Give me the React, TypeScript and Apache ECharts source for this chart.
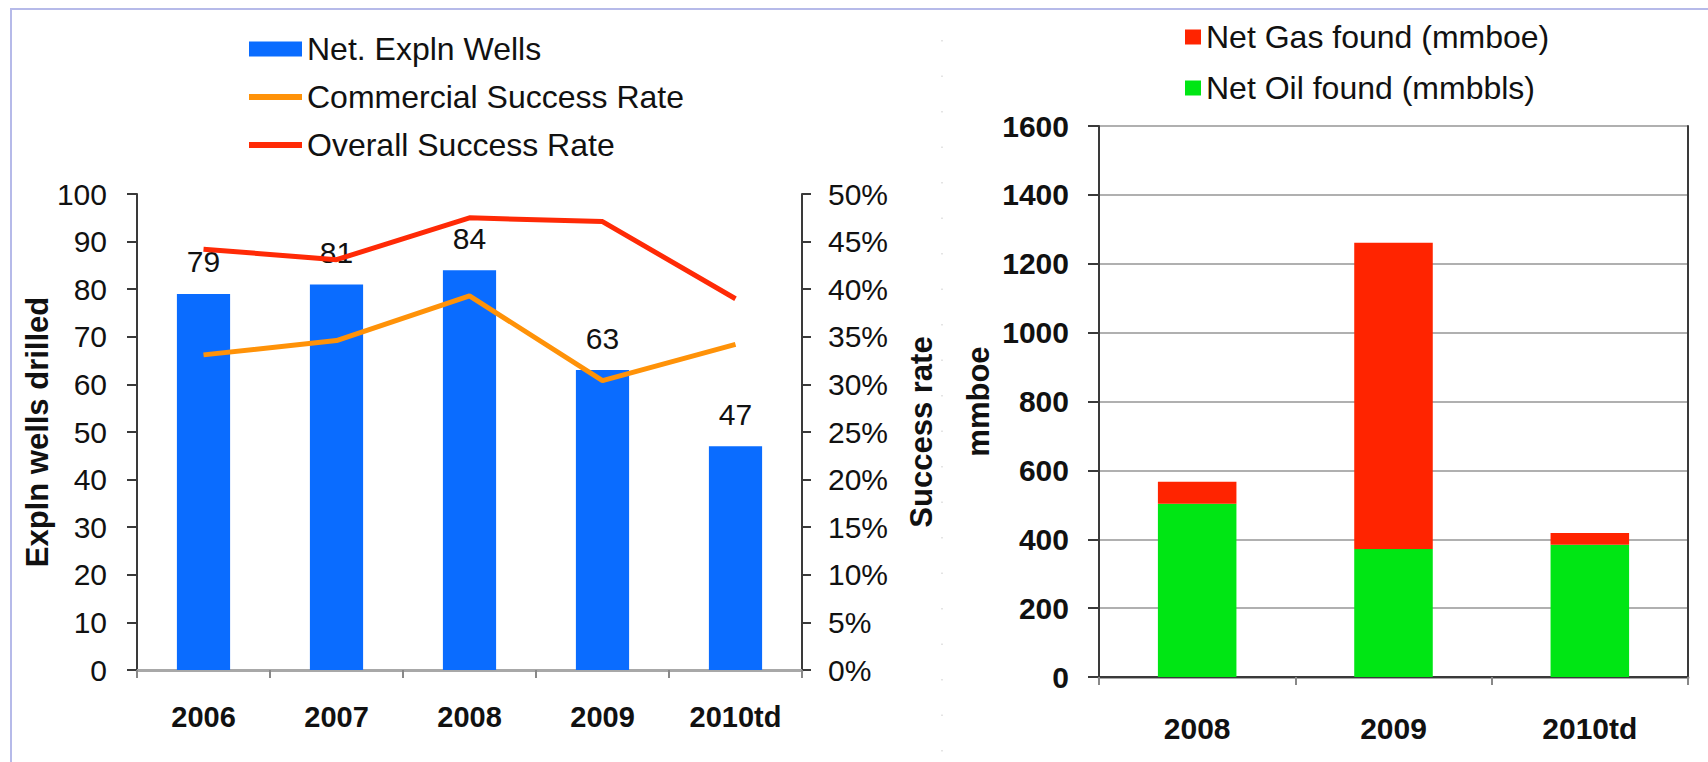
import React, { useEffect, useRef } from "react";
import * as echarts from "echarts";

const wellYears = ["2006", "2007", "2008", "2009", "2010td"];
const netExplnWells = [79, 81, 84, 63, 47];
const commercialSuccess = [0.331, 0.346, 0.393, 0.304, 0.342];
const overallSuccess = [0.442, 0.431, 0.475, 0.471, 0.39];

const foundYears = ["2008", "2009", "2010td"];
const netOilFound = [503, 372, 384];
const netGasFound = [64, 889, 34];

const FONT = "'Liberation Sans', Arial, Helvetica, sans-serif";

export default function App() {
  const ref = useRef<HTMLDivElement>(null);

  useEffect(() => {
    if (!ref.current) return;
    const chart = echarts.init(ref.current, null, { renderer: "svg" });
    const dark = "#3a3a3a";
    const axisGrey = "#a8a8a8";
    const tickLabel = { color: "#111", fontFamily: FONT, fontSize: 30 };
    const boldLabel = { color: "#111", fontFamily: FONT, fontSize: 30, fontWeight: "bold" as const };

    chart.setOption({
      animation: false,
      backgroundColor: "#ffffff",
      textStyle: { fontFamily: FONT },
      grid: [
        { left: 137, top: 194, width: 665, height: 476 },
        { left: 1099, top: 126, width: 589, height: 551 },
      ],
      legend: [
        {
          orient: "vertical",
          left: 244,
          top: 28,
          itemWidth: 53,
          itemHeight: 15,
          itemGap: 16,
          textStyle: { color: "#111", fontFamily: FONT, fontSize: 32 },
          data: [
            { name: "Net. Expln Wells", icon: "rect" },
            { name: "Commercial Success Rate", icon: "path://M0,0H53V6H0Z" },
            { name: "Overall Success Rate", icon: "path://M0,0H53V6H0Z" },
          ],
        },
        {
          orient: "vertical",
          left: 1180,
          top: 16,
          itemWidth: 16,
          itemHeight: 15,
          itemGap: 19,
          textStyle: { color: "#111", fontFamily: FONT, fontSize: 32 },
          data: [
            { name: "Net Gas found (mmboe)", icon: "rect" },
            { name: "Net Oil found (mmbbls)", icon: "rect" },
          ],
        },
      ],
      xAxis: [
        {
          type: "category",
          gridIndex: 0,
          data: wellYears,
          axisLine: { lineStyle: { color: axisGrey, width: 3 } },
          axisTick: { show: true, length: 8, lineStyle: { color: "#888", width: 2 } },
          axisLabel: { ...boldLabel, fontSize: 29, margin: 32 },
        },
        {
          type: "category",
          gridIndex: 1,
          data: foundYears,
          axisLine: { lineStyle: { color: axisGrey, width: 3 } },
          axisTick: { show: true, length: 8, lineStyle: { color: "#888", width: 2 } },
          axisLabel: { ...boldLabel, margin: 36 },
        },
        {
          type: "category",
          gridIndex: 1,
          position: "top",
          data: foundYears,
          axisLine: { lineStyle: { color: dark, width: 2 } },
          axisTick: { show: false },
          axisLabel: { show: false },
        },
      ],
      yAxis: [
        {
          type: "value",
          gridIndex: 0,
          min: 0,
          max: 100,
          interval: 10,
          name: "Expln wells drilled",
          nameLocation: "middle",
          nameRotate: 90,
          nameGap: 81,
          nameTextStyle: { color: "#111", fontFamily: FONT, fontSize: 31, fontWeight: "bold" },
          axisLine: { show: true, lineStyle: { color: dark, width: 2 } },
          axisTick: { show: true, length: 10, lineStyle: { color: dark, width: 2 } },
          splitLine: { show: false },
          axisLabel: { ...tickLabel, margin: 30 },
        },
        {
          type: "value",
          gridIndex: 0,
          position: "right",
          min: 0,
          max: 0.5,
          interval: 0.05,
          name: "Success rate",
          nameLocation: "middle",
          nameRotate: 90,
          nameGap: 104,
          nameTextStyle: { color: "#111", fontFamily: FONT, fontSize: 31, fontWeight: "bold" },
          axisLine: { show: true, lineStyle: { color: dark, width: 2 } },
          axisTick: { show: true, length: 9, lineStyle: { color: dark, width: 2 } },
          splitLine: { show: false },
          axisLabel: {
            ...tickLabel,
            margin: 26,
            formatter: (v: number) => Math.round(v * 100) + "%",
          },
        },
        {
          type: "value",
          gridIndex: 1,
          min: 0,
          max: 1600,
          interval: 200,
          name: "mmboe",
          nameLocation: "middle",
          nameRotate: 90,
          nameGap: 105,
          nameTextStyle: { color: "#111", fontFamily: FONT, fontSize: 31, fontWeight: "bold" },
          axisLine: { show: true, lineStyle: { color: dark, width: 2 } },
          axisTick: { show: true, length: 11, lineStyle: { color: dark, width: 2 } },
          splitLine: { show: true, lineStyle: { color: "#b0b0b0", width: 2 } },
          axisLabel: { ...boldLabel, margin: 30, formatter: (v: number) => String(v) },
        },
        {
          type: "value",
          gridIndex: 1,
          position: "right",
          min: 0,
          max: 1600,
          interval: 200,
          axisLine: { show: true, lineStyle: { color: dark, width: 2 } },
          axisTick: { show: false },
          axisLabel: { show: false },
          splitLine: { show: false },
        },
      ],
      series: [
        {
          name: "Net. Expln Wells",
          type: "bar",
          xAxisIndex: 0,
          yAxisIndex: 0,
          data: netExplnWells,
          barWidth: "40%",
          color: "#0a6cff",
          label: {
            show: true,
            position: "top",
            distance: 17,
            color: "#111",
            fontFamily: FONT,
            fontSize: 30,
          },
        },
        {
          name: "Commercial Success Rate",
          type: "line",
          xAxisIndex: 0,
          yAxisIndex: 1,
          data: commercialSuccess,
          color: "#ff9208",
          symbol: "none",
          lineStyle: { width: 5, color: "#ff9208" },
        },
        {
          name: "Overall Success Rate",
          type: "line",
          xAxisIndex: 0,
          yAxisIndex: 1,
          data: overallSuccess,
          color: "#ff2a06",
          symbol: "none",
          lineStyle: { width: 5, color: "#ff2a06" },
        },
        {
          name: "Net Oil found (mmbbls)",
          type: "bar",
          xAxisIndex: 1,
          yAxisIndex: 2,
          stack: "found",
          data: netOilFound,
          barWidth: "40%",
          color: "#00e614",
        },
        {
          name: "Net Gas found (mmboe)",
          type: "bar",
          xAxisIndex: 1,
          yAxisIndex: 2,
          stack: "found",
          data: netGasFound,
          barWidth: "40%",
          color: "#ff2400",
        },
      ],
      graphic: [
        {
          type: "polyline",
          silent: true,
          shape: { points: [[11, 770], [11, 9], [1720, 9]] },
          style: { stroke: "#b6bae9", lineWidth: 2, fill: null },
        },
        {
          type: "line",
          silent: true,
          shape: { x1: 942, y1: 40, x2: 942, y2: 762 },
          style: { stroke: "#dcdcdc", lineWidth: 1.5, lineDash: [1.5, 34] },
        },
      ],
    });

    return () => chart.dispose();
  }, []);

  return (
    <div
      ref={ref}
      style={{ position: "absolute", left: 0, top: 0, width: 1708, height: 762 }}
    />
  );
}
